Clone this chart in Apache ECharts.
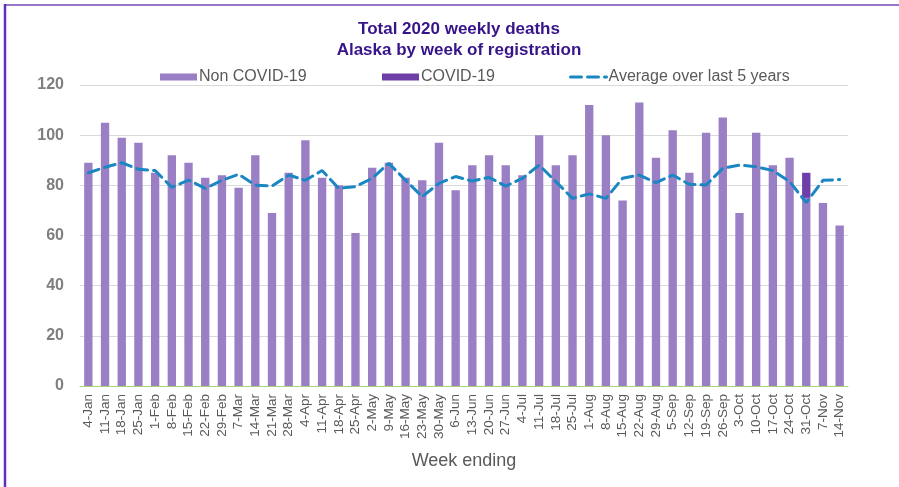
<!DOCTYPE html>
<html>
<head>
<meta charset="utf-8">
<script src="https://cdn.jsdelivr.net/npm/echarts@6/dist/echarts.min.js"></script>
<style>
html,body{margin:0;padding:0;background:#fff;}
#chart{width:899px;height:487px;}
</style>
</head>
<body>
<div id="chart"></div>
<script>
var weeks = ['4-Jan','11-Jan','18-Jan','25-Jan','1-Feb','8-Feb','15-Feb','22-Feb','29-Feb','7-Mar','14-Mar','21-Mar','28-Mar','4-Apr','11-Apr','18-Apr','25-Apr','2-May','9-May','16-May','23-May','30-May','6-Jun','13-Jun','20-Jun','27-Jun','4-Jul','11-Jul','18-Jul','25-Jul','1-Aug','8-Aug','15-Aug','22-Aug','29-Aug','5-Sep','12-Sep','19-Sep','26-Sep','3-Oct','10-Oct','17-Oct','24-Oct','31-Oct','7-Nov','14-Nov'];

var nonCovid = [89,105,99,97,85,92,89,83,84,79,92,69,85,98,83,80,61,87,89,83,82,97,78,88,92,88,84,100,88,92,112,100,74,113,91,102,85,101,107,69,101,88,91,75,73,64];

var covid = [0,0,0,0,0,0,0,0,0,0,0,0,0,0,0,0,0,0,0,0,0,0,0,0,0,0,0,0,0,0,0,0,0,0,0,0,0,0,0,0,0,0,0,10,0,0];

var avg5 = [85,87.2,89,86.4,85.9,79.2,82.1,78.8,82,84.4,80.1,79.7,84.1,82,85.9,78.8,79.5,82.8,88.8,82,75.5,80.8,83.5,81.7,83.2,79.7,82.8,88.1,81.5,74.8,76.6,74.8,82.8,84.1,81.1,84.1,80.4,80.1,86.8,88.1,87.4,85.9,81.5,73.1,82,82.3];

var yTicks = [0,20,40,60,80,100,120];

var chart = echarts.init(document.getElementById('chart'), null, {renderer:'canvas'});
var legendText = {fontSize:16, color:'#595959', fontFamily:'Liberation Sans, Arial, sans-serif', padding:[0,0,0,-3]};
chart.setOption({
  animation:false,
  backgroundColor:'#ffffff',
  textStyle:{fontFamily:'Liberation Sans, Arial, sans-serif'},
  title:{
    text:'Total 2020 weekly deaths\nAlaska by week of registration',
    left:454, top:14, textAlign:'center',
    textStyle:{fontSize:17, fontWeight:'bold', color:'#37148a', lineHeight:21, fontFamily:'Liberation Sans, Arial, sans-serif'}
  },
  legend:[
    {data:[{name:'Non COVID-19', icon:'rect'}], left:155, top:64, itemWidth:37, itemHeight:7, textStyle:legendText, selectedMode:false},
    {data:[{name:'COVID-19', icon:'rect'}], left:377, top:64, itemWidth:37, itemHeight:7, textStyle:legendText, selectedMode:false},
    {data:['Average over last 5 years'], left:564, top:64, itemWidth:36, itemHeight:7, textStyle:legendText, selectedMode:false,
     itemStyle:{opacity:0}, lineStyle:{color:'#1a86c2', width:3, type:[11,6]}}
  ],
  grid:{left:80, right:51, top:85, bottom:101, containLabel:false},
  xAxis:{
    type:'category', data:weeks,
    name:'Week ending', nameLocation:'middle', nameGap:66,
    nameTextStyle:{fontSize:18, color:'#595959'},
    axisLine:{show:true, lineStyle:{color:'#a6d47a', width:1}},
    axisTick:{show:false},
    axisLabel:{interval:0, rotate:90, fontSize:13.5, color:'#595959', margin:8}
  },
  yAxis:{
    type:'value', min:yTicks[0], max:yTicks[yTicks.length-1], interval:20,
    axisLine:{show:false}, axisTick:{show:false},
    axisLabel:{fontSize:16, fontWeight:'bold', color:'#7f7f7f', margin:16},
    splitLine:{lineStyle:{color:'#d9d9d9', width:1}}
  },
  series:[
    {name:'Non COVID-19', type:'bar', stack:'total', data:nonCovid, barWidth:'50%', itemStyle:{color:'#9b7fc5'}},
    {name:'COVID-19', type:'bar', stack:'total', data:covid, barWidth:'50%', itemStyle:{color:'#6e3fa8'}},
    {name:'Average over last 5 years', type:'line', data:avg5, symbol:'none', z:5,
     lineStyle:{color:'#1a86c2', width:3, type:[11,6], cap:'round'}, itemStyle:{color:'#1a86c2'}}
  ],
  graphic:[
    {type:'line', shape:{x1:4, y1:5, x2:899, y2:5}, style:{stroke:'#9577cc', lineWidth:2}, z:100},
    {type:'line', shape:{x1:5, y1:4, x2:5, y2:487}, style:{stroke:'#5f30bb', lineWidth:2.5}, z:100}
  ]
});
</script>
</body>
</html>
